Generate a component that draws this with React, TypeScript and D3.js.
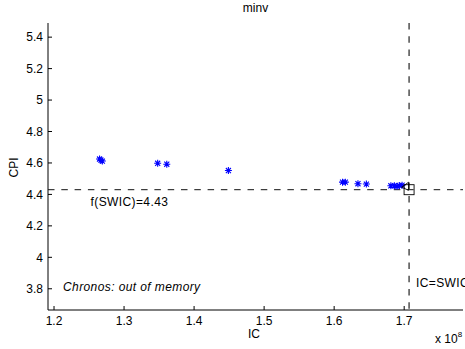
import React, { useEffect, useRef } from 'react';
import * as d3 from 'd3';

// IC values in units of 1e8, CPI
const icValues = [1.265, 1.267, 1.269, 1.348, 1.361, 1.449, 1.612, 1.616, 1.634, 1.646, 1.681, 1.686, 1.69, 1.693, 1.697];
const cpiValues = [4.625, 4.618, 4.612, 4.598, 4.592, 4.552, 4.478, 4.478, 4.468, 4.466, 4.455, 4.455, 4.452, 4.456, 4.459];
const xTicks = [1.2, 1.3, 1.4, 1.5, 1.6, 1.7];
const yTicks = [3.8, 4, 4.2, 4.4, 4.6, 4.8, 5, 5.2, 5.4];
const SWIC = 1.707;
const F_SWIC = 4.43;
const triangle = [1.702, 4.452];

export default function App() {
  const ref = useRef<SVGSVGElement>(null);
  /* SIZE */
  const WIDTH = 465;
  const HEIGHT = 349;
  const FONT = 'Liberation Sans, Arial, sans-serif';
  const FS = 12;
  const LS = 0.4;
  const margin = { left: 48, right: 2, top: 23, bottom: 39 };

  useEffect(() => {
    const svg = d3.select(ref.current);
    svg.selectAll('*').remove();

    const x = d3.scaleLinear().domain([1.1914, 1.784]).range([margin.left, WIDTH - margin.right]);
    const y = d3.scaleLinear().domain([3.665, 5.49]).range([HEIGHT - margin.bottom, margin.top]);
    const x0 = margin.left, x1 = WIDTH - margin.right;
    const y0 = HEIGHT - margin.bottom, y1 = margin.top;

    const g = svg.append('g').attr('font-family', FONT).attr('font-size', FS);

    // 坐标轴 (MATLAB style, ticks inside)
    g.append('line').attr('x1', x0).attr('x2', x1).attr('y1', y0).attr('y2', y0).attr('stroke', '#000');
    g.append('line').attr('x1', x0).attr('x2', x0).attr('y1', y0).attr('y2', y1).attr('stroke', '#000');

    xTicks.forEach(t => {
      g.append('line').attr('x1', x(t)).attr('x2', x(t)).attr('y1', y0).attr('y2', y0 - 4).attr('stroke', '#000');
      g.append('text').attr('x', x(t)).attr('y', y0 + 14.5).attr('text-anchor', 'middle').text(String(t));
    });
    yTicks.forEach(t => {
      g.append('line').attr('x1', x0).attr('x2', x0 + 4).attr('y1', y(t)).attr('y2', y(t)).attr('stroke', '#000');
      g.append('text').attr('x', x0 - 5).attr('y', y(t) + 4.3).attr('text-anchor', 'end').text(String(t));
    });

    // 虚线
    g.append('line').attr('x1', x0).attr('x2', x1).attr('y1', y(F_SWIC)).attr('y2', y(F_SWIC))
      .attr('stroke', '#111').attr('stroke-dasharray', '6.5,6.8');
    g.append('line').attr('x1', x(SWIC)).attr('x2', x(SWIC)).attr('y1', y1).attr('y2', y0)
      .attr('stroke', '#333').attr('stroke-width', 1.3).attr('stroke-dasharray', '6.5,6.8');

    // 数据点 asterisks
    const r = 3.5;
    const pts = icValues.map((v, i) => [x(v), y(cpiValues[i])]);
    g.append('g').selectAll('path').data(pts).enter().append('path')
      .attr('fill', 'none').attr('stroke', '#0000ff').attr('stroke-width', 1.1)
      .attr('d', ([cx, cy]) => {
        const d = r * 0.72;
        return `M${cx - r},${cy}H${cx + r}M${cx},${cy - r}V${cy + r}` +
          `M${cx - d},${cy - d}L${cx + d},${cy + d}M${cx - d},${cy + d}L${cx + d},${cy - d}`;
      });

    // triangle and square markers
    const tx = x(triangle[0]), ty = y(triangle[1]);
    g.append('path').attr('fill', 'none').attr('stroke', '#000').attr('stroke-width', 0.9)
      .attr('d', `M${tx - 4},${ty + 1}L${tx + 3},${ty - 4}L${tx + 3},${ty + 4}Z`);
    const sx = x(SWIC), sy = y(F_SWIC);
    g.append('rect').attr('x', sx - 5).attr('y', sy - 5).attr('width', 10).attr('height', 10)
      .attr('fill', 'none').attr('stroke', '#000').attr('stroke-width', 0.9);

    // texts
    g.append('text').attr('x', (x0 + x1) / 2).attr('y', 12).attr('text-anchor', 'middle').text('minv');
    g.append('text').attr('x', 254).attr('y', 338).attr('text-anchor', 'middle').text('IC');
    g.append('text').attr('transform', `translate(18,167.5) rotate(-90)`).attr('text-anchor', 'middle').text('CPI');
    const sci = g.append('text').attr('x', 435).attr('y', 343);
    sci.append('tspan').text('x 10');
    sci.append('tspan').attr('dy', -6).attr('font-size', 8).text('8');
    g.append('text').attr('x', 90.5).attr('y', 206).attr('letter-spacing', LS).text('f(SWIC)=4.43');
    g.append('text').attr('x', 63).attr('y', 291).attr('font-style', 'italic').attr('letter-spacing', LS)
      .text('Chronos: out of memory');
    g.append('text').attr('x', 416).attr('y', 287).attr('letter-spacing', LS).text('IC=SWIC');
  }, []);

  return (
    <svg ref={ref} width={WIDTH} height={HEIGHT}
      style={{ position: 'absolute', left: 0, top: 0, background: '#fff' }} />
  );
}
